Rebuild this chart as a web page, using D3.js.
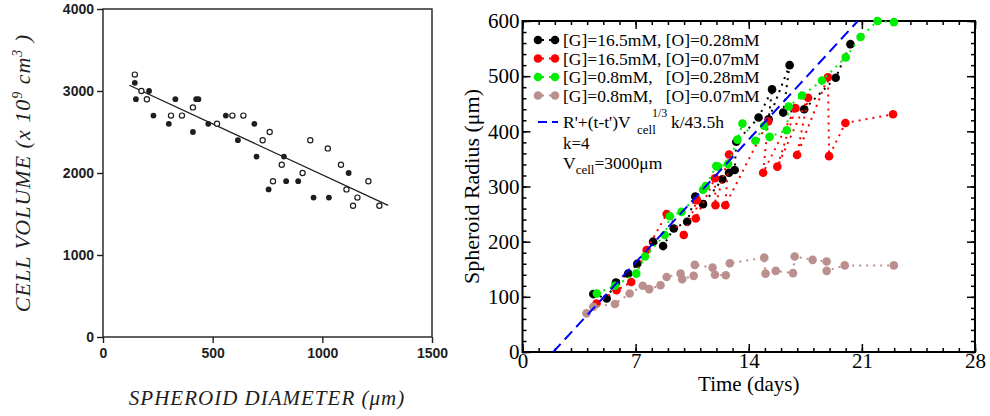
<!DOCTYPE html>
<html><head><meta charset="utf-8">
<script src="https://cdn.jsdelivr.net/npm/d3@7"></script>
<style>body{margin:0;background:#fff}svg{display:block}</style>
</head><body>
<svg id="c" width="990" height="416"></svg>
<script>
// ---------- Left panel data (spheroid diameter µm, cell volume x10^9 cm^3)
const leftFilled = [[145,3100],[150,2900],[210,3000],[230,2700],[300,2600],[330,2900],[410,2500],[425,2900],[435,2900],[480,2600],[560,2700],[615,2400],[690,2600],[700,2200],[755,1800],[825,2200],[835,1900],[890,1900],[960,1700],[1030,1700],[1120,2000]];
const leftOpen = [[145,3200],[175,3000],[200,2900],[310,2700],[360,2700],[410,2800],[520,2600],[590,2700],[640,2700],[728,2400],[760,2500],[775,1900],[815,2100],[910,2000],[945,2400],[1025,2300],[1085,2100],[1110,1800],[1140,1600],[1160,1700],[1210,1900],[1260,1600]];
const leftFit = [[120,3070],[1300,1605]];
const leftXTicks = [0,500,1000,1500];
const leftYTicks = [0,1000,2000,3000,4000];

// ---------- Right panel data (days, spheroid radius µm)
const seriesNames = ["[G]=16.5mM, [O]=0.28mM","[G]=16.5mM, [O]=0.07mM","[G]=0.8mM,   [O]=0.28mM","[G]=0.8mM,   [O]=0.07mM"];
const seriesColors = ["#000000","#ff0000","#00ee00","#bc8f8f"];
const blackPts = [[4.38,105],[5.21,97],[5.78,126],[6.54,142],[7.10,160],[8.08,200],[8.70,192],[9.36,224],[10.19,236],[10.69,282],[11.17,268],[12.37,313],[12.78,325],[13.13,330],[13.23,381],[14.61,425],[15.44,476],[15.23,422],[16.53,520],[16.13,434],[17.43,440],[19.38,497],[20.29,558]];
const redPts = [[4.58,88],[5.82,112],[6.73,127],[7.68,185],[8.92,250],[9.98,212],[10.80,275],[10.72,242],[11.91,315],[11.94,266],[12.78,358],[12.55,266],[15.20,418],[14.89,325],[16.89,442],[15.77,336],[17.67,461],[16.99,357],[18.90,498],[18.97,355],[19.98,415],[22.93,431]];
const greenPts = [[4.60,106],[5.72,120],[7.04,142],[7.58,173],[8.80,212],[9.12,246],[9.84,254],[11.17,294],[11.34,301],[11.99,337],[12.10,336],[12.72,341],[13.30,385],[13.61,414],[14.41,383],[14.95,410],[15.29,390],[16.35,402],[16.47,445],[17.30,465],[18.53,492],[20.0,534],[20.92,571],[21.97,600],[22.98,598]];
const brownPts = [[3.96,70],[4.38,82],[5.72,87],[6.63,106],[7.44,120],[7.84,114],[8.54,121],[8.92,136],[9.78,142],[9.88,132],[10.59,138],[10.66,158],[11.76,153],[11.91,140],[12.58,139],[12.83,161],[14.96,171],[15.04,142],[15.67,147],[16.74,143],[16.84,173],[17.95,167],[18.82,164],[18.82,147],[19.94,157],[22.98,157]];
const fitLine = [[1.9,0],[20.75,600]];
const rightXTicks = [0,7,14,21,28];
const rightYTicks = [0,100,200,300,400,500,600];

const svg = d3.select("#c");

// ================= LEFT PANEL =================
const xL = d3.scaleLinear([0,1500],[103,432]);
const yL = d3.scaleLinear([0,4000],[337,9]);
const L = svg.append("g");
const ink = "#1e1e1e";
L.append("rect").attr("x",xL(0)).attr("y",yL(4000)).attr("width",xL(1500)-xL(0)).attr("height",yL(0)-yL(4000))
 .attr("fill","none").attr("stroke",ink).attr("stroke-width",1.4);
const axL = L.append("g").attr("transform",`translate(0,${yL(0)})`)
 .call(d3.axisBottom(xL).tickValues(leftXTicks).tickSize(6).tickPadding(5).tickFormat(d3.format("d")));
const ayL = L.append("g").attr("transform",`translate(${xL(0)},0)`)
 .call(d3.axisLeft(yL).tickValues(leftYTicks).tickSize(6).tickPadding(3).tickFormat(d3.format("d")));
[axL,ayL].forEach(a=>{a.select(".domain").remove();
 a.selectAll("line").attr("stroke",ink).attr("stroke-width",1.4);
 a.selectAll("text").attr("fill",ink).attr("font-family","Liberation Sans, Arial").attr("font-size",14).attr("font-weight","bold");});
L.append("line").attr("x1",xL(leftFit[0][0])).attr("y1",yL(leftFit[0][1])).attr("x2",xL(leftFit[1][0])).attr("y2",yL(leftFit[1][1]))
 .attr("stroke",ink).attr("stroke-width",1.3);
L.selectAll("circle.f").data(leftFilled).join("circle").attr("class","f")
 .attr("cx",d=>xL(d[0])).attr("cy",d=>yL(d[1])).attr("r",2.9).attr("fill",ink);
L.selectAll("circle.o").data(leftOpen).join("circle").attr("class","o")
 .attr("cx",d=>xL(d[0])).attr("cy",d=>yL(d[1])).attr("r",2.6).attr("fill","#fff").attr("stroke",ink).attr("stroke-width",1.2);
const ty = L.append("text").attr("transform","translate(30,173) rotate(-90)").attr("text-anchor","middle")
 .attr("font-family","Liberation Serif, Times New Roman").attr("font-style","italic").attr("font-size",22).attr("letter-spacing",1).attr("fill",ink);
ty.append("tspan").text("CELL VOLUME (x 10");
ty.append("tspan").attr("font-size",14).attr("dy",-8).text("9");
ty.append("tspan").attr("dy",8).text(" cm");
ty.append("tspan").attr("font-size",14).attr("dy",-8).text("3");
ty.append("tspan").attr("dy",8).text(" )");
L.append("text").attr("x",267).attr("y",405).attr("text-anchor","middle")
 .attr("font-family","Liberation Serif, Times New Roman").attr("font-style","italic").attr("font-size",21).attr("fill",ink)
 .attr("letter-spacing",1).text("SPHEROID DIAMETER (\u03bcm)");

// ================= RIGHT PANEL =================
const xR = d3.scaleLinear([0,28],[522.5,975]);
const yR = d3.scaleLinear([0,600],[352,21]);
const R = svg.append("g");
const serif = "Liberation Serif, Times New Roman, serif";
R.append("clipPath").attr("id","pc").append("rect")
 .attr("x",xR(0)).attr("y",yR(600)-6).attr("width",xR(28)-xR(0)).attr("height",yR(0)-yR(600)+6);

function axisStyle(g){g.select(".domain").remove();g.selectAll("line").attr("stroke","#000").attr("stroke-width",1.5);
 g.selectAll("text").attr("font-family",serif).attr("font-size",21).attr("fill","#000");}
const minorX = d3.range(0,29,1), minorY = d3.range(0,601,20);
R.append("g").attr("transform",`translate(0,${yR(0)})`).call(d3.axisBottom(xR).tickValues(minorX).tickSize(-4).tickFormat("")).call(axisStyle);
R.append("g").attr("transform",`translate(0,${yR(0)})`).call(d3.axisBottom(xR).tickValues(rightXTicks).tickSize(-8).tickPadding(1)).call(axisStyle);
R.append("g").attr("transform",`translate(0,${yR(600)})`).call(d3.axisTop(xR).tickValues(minorX).tickSize(-4).tickFormat("")).call(axisStyle);
R.append("g").attr("transform",`translate(0,${yR(600)})`).call(d3.axisTop(xR).tickValues(rightXTicks).tickSize(-8).tickFormat("")).call(axisStyle);
R.append("g").attr("transform",`translate(${xR(0)},0)`).call(d3.axisLeft(yR).tickValues(minorY).tickSize(-4).tickFormat("")).call(axisStyle);
R.append("g").attr("transform",`translate(${xR(0)},0)`).call(d3.axisLeft(yR).tickValues(rightYTicks).tickSize(-8).tickPadding(3)).call(axisStyle);
R.append("g").attr("transform",`translate(${xR(28)},0)`).call(d3.axisRight(yR).tickValues(minorY).tickSize(-4).tickFormat("")).call(axisStyle);
R.append("g").attr("transform",`translate(${xR(28)},0)`).call(d3.axisRight(yR).tickValues(rightYTicks).tickSize(-8).tickFormat("")).call(axisStyle);

R.append("rect").attr("x",xR(0)).attr("y",yR(600)).attr("width",xR(28)-xR(0)).attr("height",yR(0)-yR(600))
 .attr("fill","none").attr("stroke","#000").attr("stroke-width",2);

R.append("text").attr("x",(xR(0)+xR(28))/2).attr("y",391).attr("text-anchor","middle")
 .attr("font-family",serif).attr("font-size",21).text("Time (days)");
R.append("text").attr("transform",`translate(479,${(yR(0)+yR(600))/2}) rotate(-90)`).attr("text-anchor","middle")
 .attr("font-family",serif).attr("font-size",22).text("Spheroid Radius (\u03bcm)");

const line = d3.line().x(d=>xR(d[0])).y(d=>yR(d[1]));
const plot = R.append("g").attr("clip-path","url(#pc)");
const allSeries = [blackPts,redPts,greenPts,brownPts];
allSeries.forEach((pts,i)=>{
 const g = plot.append("g");
 g.append("path").datum(pts).attr("d",line).attr("fill","none").attr("stroke",seriesColors[i])
  .attr("stroke-width",2).attr("stroke-dasharray","2,5");
 g.selectAll("circle").data(pts).join("circle").attr("cx",d=>xR(d[0])).attr("cy",d=>yR(d[1])).attr("r",4.3).attr("fill",seriesColors[i]);
});
plot.append("path").datum(fitLine).attr("d",line).attr("fill","none").attr("stroke","#0000ff")
 .attr("stroke-width",2).attr("stroke-dasharray","11,6");

// legend
const lg = R.append("g");
const rowY = [40,58.5,77,95.5];
seriesNames.forEach((name,i)=>{
 lg.append("line").attr("x1",538).attr("x2",555).attr("y1",rowY[i]).attr("y2",rowY[i]).attr("stroke",seriesColors[i])
  .attr("stroke-width",2).attr("stroke-dasharray","2,5").attr("stroke-dashoffset",-4);
 lg.selectAll(null).data([538,555]).join("circle").attr("cx",d=>d).attr("cy",rowY[i]).attr("r",4.3).attr("fill",seriesColors[i]);
 lg.append("text").attr("x",563).attr("y",rowY[i]+6).attr("font-family",serif).attr("font-size",17.5)
  .attr("xml:space","preserve").style("white-space","pre").text(name);
});
lg.append("line").attr("x1",538).attr("x2",558).attr("y1",122).attr("y2",122).attr("stroke","#0000ff").attr("stroke-width",2).attr("stroke-dasharray","9,5");
const ft = lg.append("text").attr("x",563).attr("y",128).attr("font-family",serif).attr("font-size",17.5);
ft.append("tspan").text("R'+(t-t')V");
ft.append("tspan").attr("x",637).attr("y",134).attr("font-size",13).text("cell");
ft.append("tspan").attr("x",652).attr("y",117).attr("font-size",12).text("1/3");
ft.append("tspan").attr("x",671).attr("y",128).text("k/43.5h");
lg.append("text").attr("x",563).attr("y",149).attr("font-family",serif).attr("font-size",17).text("k=4");
const vt = lg.append("text").attr("x",563).attr("y",169).attr("font-family",serif).attr("font-size",17.5);
vt.append("tspan").text("V");
vt.append("tspan").attr("font-size",13).attr("dy",5).text("cell");
vt.append("tspan").attr("dy",-5).text("=3000\u03bcm");
</script>
</body></html>
